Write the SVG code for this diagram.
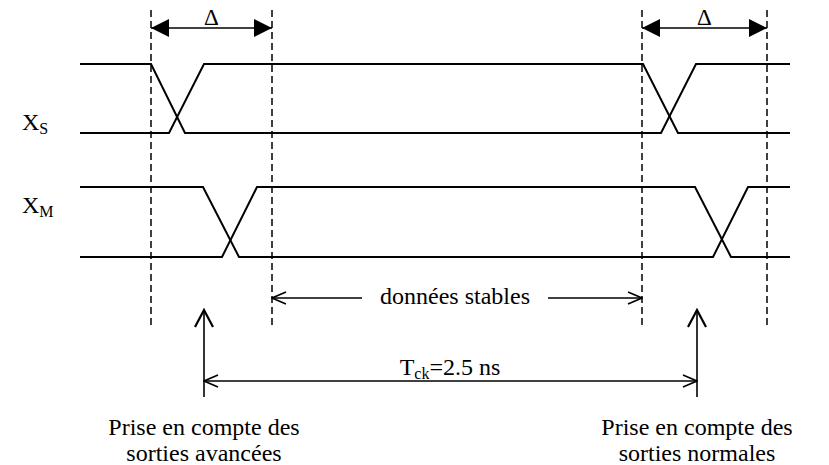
<svg xmlns="http://www.w3.org/2000/svg" width="829" height="465" viewBox="0 0 829 465">
<style>
.w{fill:none;stroke:#000;stroke-width:2;stroke-linejoin:miter}
.d{fill:none;stroke:#000;stroke-width:1.5;stroke-dasharray:7 4}
.a{fill:none;stroke:#000;stroke-width:1.6}
.t{font-family:"Liberation Serif","Times New Roman",serif;font-size:24px;fill:#000}
.s{font-size:16px}
</style>
<defs>
<marker id="fill" viewBox="0 0 18 18" refX="18" refY="9" markerWidth="18" markerHeight="18" markerUnits="userSpaceOnUse" orient="auto-start-reverse">
<path d="M0,0 L18,9 L0,18 Z" fill="#000"/>
</marker>
<marker id="open" viewBox="0 0 16 14" refX="15" refY="7" markerWidth="16" markerHeight="14" markerUnits="userSpaceOnUse" orient="auto-start-reverse">
<path d="M1,1 L15,7 L1,13" fill="none" stroke="#000" stroke-width="1.6"/>
</marker>
<marker id="up" viewBox="0 0 20 20" refX="18" refY="10" markerWidth="20" markerHeight="20" markerUnits="userSpaceOnUse" orient="auto">
<path d="M1,1 L18,10 L1,19" fill="none" stroke="#000" stroke-width="2.2"/>
</marker>
</defs>
<g id="guides">
<line class="d" x1="151" y1="10" x2="151" y2="328"/>
<line class="d" x1="272" y1="10" x2="272" y2="328"/>
<line class="d" x1="642" y1="10" x2="642" y2="328"/>
<line class="d" x1="767" y1="10" x2="767" y2="328"/>
</g>
<g id="signal-xs">
<text class="t" x="22" y="130">X<tspan class="s" dy="4">S</tspan></text>
<path class="w" d="M80,64 H151 L185,133 H661 L696,64 H790"/>
<path class="w" d="M80,133 H169 L204,64 H643 L678,133 H790"/>
</g>
<g id="signal-xm">
<text class="t" x="22" y="213">X<tspan class="s" dy="4">M</tspan></text>
<path class="w" d="M80,187 H203 L239,257 H713 L748,187 H790"/>
<path class="w" d="M80,257 H222 L257,187 H695 L731,257 H790"/>
</g>
<g id="connectors">
<line class="a" x1="151" y1="28" x2="272" y2="28" marker-start="url(#fill)" marker-end="url(#fill)"/>
<line class="a" x1="642" y1="28" x2="767" y2="28" marker-start="url(#fill)" marker-end="url(#fill)"/>
<line class="a" x1="272" y1="298" x2="362" y2="298" marker-start="url(#open)"/>
<line class="a" x1="548" y1="298" x2="642" y2="298" marker-end="url(#open)"/>
<line class="a" x1="204" y1="397" x2="204" y2="310" stroke-width="2" marker-end="url(#up)"/>
<line class="a" x1="697" y1="397" x2="697" y2="310" stroke-width="2" marker-end="url(#up)"/>
<line class="a" x1="204" y1="381" x2="697" y2="381" marker-start="url(#open)" marker-end="url(#open)"/>
</g>
<g id="labels">
<text class="t" x="211.5" y="25" text-anchor="middle" style="font-size:23px">Δ</text>
<text class="t" x="704.5" y="25" text-anchor="middle" style="font-size:23px">Δ</text>
<text class="t" x="455" y="304" text-anchor="middle">données stables</text>
<text class="t" x="450" y="375" text-anchor="middle">T<tspan class="s" dy="4">ck</tspan><tspan dy="-4">=2.5 ns</tspan></text>
<text class="t" x="204" y="435" text-anchor="middle">Prise en compte des</text>
<text class="t" x="204" y="461" text-anchor="middle">sorties avancées</text>
<text class="t" x="697" y="435" text-anchor="middle">Prise en compte des</text>
<text class="t" x="697" y="461" text-anchor="middle">sorties normales</text>
</g>
</svg>
